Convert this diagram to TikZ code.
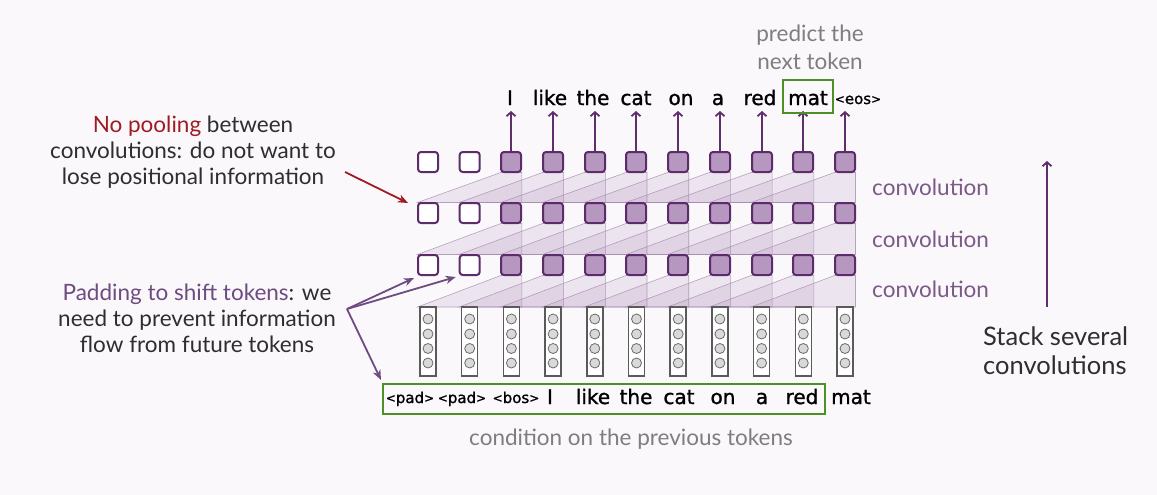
\documentclass[tikz,border=0pt]{standalone}
\usepackage{fontspec}
\setmainfont{Lato}
\newfontfamily\tokfont[FakeBold=1.2]{DejaVu Sans}
\usetikzlibrary{arrows.meta,calc}
\newcommand\smlt{\raisebox{0.8pt}{\fontsize{12}{14}\selectfont<}}
\newcommand\smgt{\raisebox{0.8pt}{\fontsize{12}{14}\selectfont>}}
\definecolor{bgc}{HTML}{FAF8FB}
\definecolor{sqfill}{HTML}{B597BF}
\definecolor{sqdraw}{HTML}{5B2C69}
\definecolor{convc}{HTML}{9B72A8}
\definecolor{convl}{HTML}{A88DB2}
\definecolor{arrp}{HTML}{5E2F6B}
\definecolor{labp}{HTML}{7B5A88}
\definecolor{padp}{HTML}{6E4B80}
\definecolor{redc}{HTML}{A01C24}
\definecolor{grn}{HTML}{4E8F26}
\definecolor{greyt}{HTML}{7E7E7E}
\definecolor{darkt}{HTML}{2E2E2E}
\definecolor{vecd}{HTML}{5A5A5A}
\definecolor{dotf}{HTML}{D9D9D9}
\definecolor{dotd}{HTML}{6A6A6A}
\begin{document}
\begin{tikzpicture}[x=1pt,y=-1pt,
  sqbox/.style={draw=sqdraw,line width=2pt,rounded corners=3pt,minimum size=20pt,inner sep=0pt},
  fullsq/.style={sqbox,fill=sqfill},
  emptysq/.style={sqbox,fill=white},
  vecbox/.style={draw=vecd,line width=1.5pt,fill=white,minimum width=16pt,minimum height=69pt,inner sep=0pt},
  convshade/.style={fill=convc,fill opacity=0.14,draw=convl,draw opacity=0.8,line width=0.6pt},
  tokarrow/.style={draw=arrp,line width=1.8pt,-{Straight Barb[length=4pt,width=9pt]}},
  tok/.style={font=\tokfont\fontsize{20}{24}\selectfont,text=black,anchor=base,inner sep=0pt},
  spectok/.style={font=\tokfont\fontsize{15}{18}\selectfont,text=black,anchor=base,inner sep=0pt},
  greenbox/.style={draw=grn,line width=2pt,inner sep=0pt},
  lab/.style={font=\fontsize{22.5}{26}\selectfont,text=darkt,anchor=base,inner sep=0pt},
  convlab/.style={font=\fontsize{22.5}{26}\selectfont,text=labp,anchor=base west,inner sep=0pt},
  greylab/.style={font=\fontsize{22.5}{28}\selectfont,text=greyt,anchor=base,inner sep=0pt},
  callout/.style={line width=1.8pt,-{Stealth[length=10pt,width=8pt,inset=3pt]}}
]
\fill[bgc] (0,0) rectangle (1157,495);
\useasboundingbox (0,0) rectangle (1157,495);

% convolution shading
\foreach \i in {2,...,10}{
  \pgfmathsetmacro\xa{428+41.7*(\i-2)-10.5}
  \pgfmathsetmacro\xb{428+41.7*\i-10.5}
  \pgfmathsetmacro\xc{428+41.7*\i+10.5}
  \foreach \up/\lo in {172.5/202.5,223.5/254.5,275.5/307}{
    \filldraw[convshade] (\xa,\lo) -- (\xb,\up) -- (\xc,\up) -- (\xc,\lo) -- cycle;
  }
}

% squares
\foreach \i in {0,1}{
  \pgfmathsetmacro\xx{428+41.7*\i}
  \node[emptysq] (t\i) at (\xx,162) {};
  \node[emptysq] (m\i) at (\xx,213) {};
  \node[emptysq] (b\i) at (\xx,265) {};
}
\foreach \i in {2,...,10}{
  \pgfmathsetmacro\xx{round(428+41.7*\i)}
  \node[fullsq] (t\i) at (\xx,162) {};
  \node[fullsq] (m\i) at (\xx,213) {};
  \node[fullsq] (b\i) at (\xx,265) {};
  \coordinate (a\i) at (\xx,111);
  \draw[tokarrow] (t\i.north) -- (a\i);
}

% embedding vectors
\foreach \i in {0,...,10}{
  \pgfmathsetmacro\xx{428+41.7*\i}
  \node[vecbox] (v\i) at (\xx,341.5) {};
  \foreach \yy in {319,334,348.5,363}{
    \draw[draw=dotd,fill=dotf,line width=0.8pt] (\xx,\yy) circle (5pt);
  }
}

% top tokens
\node[tok] (w2) at (510,105) {I};
\node[tok] (w3) at (550,105) {like};
\node[tok] (w4) at (593,105) {the};
\node[tok] (w5) at (636,105) {cat};
\node[tok] (w6) at (681,105) {on};
\node[tok] (w7) at (718,105) {a};
\node[tok] (w8) at (760,105) {red};
\node[tok] (w9) at (808,105) {mat};
\node[spectok] (w10) at (858,104) {\smlt eos\smgt};
\node[greenbox,minimum width=50pt,minimum height=33pt] (mbox) at (808,96.5) {};

% bottom tokens
\node[spectok] (u0) at (410,403) {\smlt pad\smgt};
\node[spectok] (u1) at (462,403) {\smlt pad\smgt};
\node[spectok] (u2) at (516,403) {\smlt bos\smgt};
\node[tok] (u3) at (550,404) {I};
\node[tok] (u4) at (593,404) {like};
\node[tok] (u5) at (636,404) {the};
\node[tok] (u6) at (679,404) {cat};
\node[tok] (u7) at (723,404) {on};
\node[tok] (u8) at (762,404) {a};
\node[tok] (u9) at (802,404) {red};
\node[tok] (u10) at (851,404) {mat};
\node[greenbox,minimum width=442pt,minimum height=30pt] (gbox) at (604,399) {};

% labels
\node[greylab] (pred) at (810,42) {\begin{tabular}[t]{@{}c@{}}predict the\\next token\end{tabular}};
\node[greylab] (cond) at (631,445) {condition on the previous tokens};
\node[convlab] (c1) at (872,195) {convolution};
\node[convlab] (c2) at (872,247) {convolution};
\node[convlab] (c3) at (872,297) {convolution};

\node[lab] (pool) at (193,132) {\begin{tabular}[t]{@{}c@{}}\textcolor{redc}{No pooling} between\\convolutions: do not want to\\lose positional information\end{tabular}};
\node[lab] (padl) at (197,300) {\begin{tabular}[t]{@{}c@{}}\textcolor{padp}{Padding to shift tokens}: we\\need to prevent information\\flow from future tokens\end{tabular}};
\node[font=\fontsize{25.5}{29}\selectfont,text=darkt,anchor=base west,inner sep=0pt] (stack) at (983,345) {\begin{tabular}[t]{@{}l@{}}Stack several\\convolutions\end{tabular}};

% stack arrow
\coordinate (sa) at (1047,307);
\coordinate (sb) at (1047,161);
\draw[tokarrow] (sa) -- (sb);

% red callout
\coordinate (r0) at (345,172);
\coordinate (r1) at (408,203);
\draw[callout,draw=redc] (r0) -- (r1);

% padding callouts
\coordinate (p0) at (347,309);
\draw[callout,draw=padp] (p0) -- ($(b0.south west)+(-3,2)$);
\draw[callout,draw=padp] (p0) -- ($(b1.south west)+(-3,1)$);
\draw[callout,draw=padp] (p0) -- ($(gbox.north west)+(-1,-3)$);
\end{tikzpicture}
\end{document}
